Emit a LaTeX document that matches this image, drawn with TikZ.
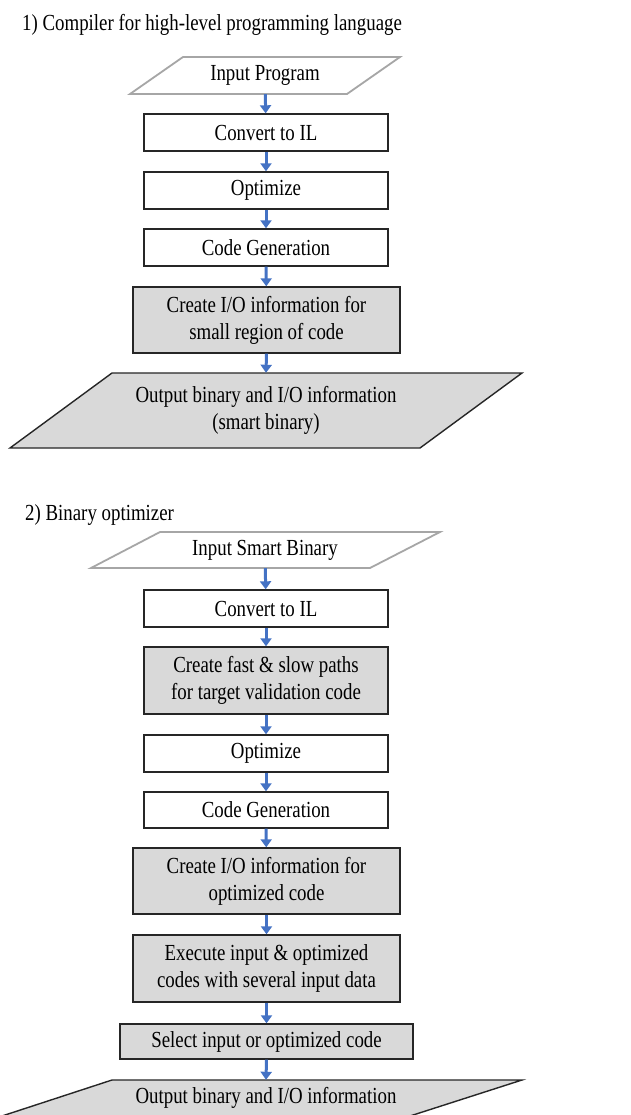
\documentclass[tikz,border=0pt]{standalone}
\usepackage{fontspec}
\setmainfont{Liberation Serif}[FakeStretch=0.82]
\usetikzlibrary{arrows.meta}
\definecolor{arrowblue}{HTML}{4472C4}
\definecolor{boxgray}{HTML}{D9D9D9}
\definecolor{inborder}{HTML}{A6A6A6}
\definecolor{boxborder}{HTML}{262626}
\tikzset{
  txt/.style={font=\fontsize{23}{27}\selectfont, align=center, inner sep=0pt},
  box/.style={txt, draw=boxborder, line width=1.4pt, fill=white},
  graybox/.style={box, fill=boxgray},
  inpar/.style={draw=inborder, line width=1.8pt, fill=white},
  outpar/.style={draw=boxborder, line width=1.4pt, fill=boxgray},
  flow/.style={draw=arrowblue, line width=3pt, -{Triangle[width=11pt,length=8pt]}},
  titletxt/.style={txt, anchor=west}
}
\begin{document}
\begin{tikzpicture}[x=1pt,y=-1pt]
\useasboundingbox (0,0) rectangle (631,1115);
\clip (0,0) rectangle (631,1115);
\fill[white] (0,0) rectangle (631,1115);

% ---------- Part 1 ----------
\node[titletxt] (t1) at (22,25) {1) Compiler for high-level programming language};

\draw[inpar] (183,57) -- (400,57) -- (347,94) -- (130,94) -- cycle;
\node[txt, minimum height=37pt] (in1) at (265,75.5) {Input Program};

\node[box, minimum width=244pt, minimum height=37pt] (b1) at (266,132.5) {Convert to IL};
\node[box, minimum width=244pt, minimum height=37pt] (b2) at (266,190.5) {Optimize};
\node[box, minimum width=244pt, minimum height=37pt] (b3) at (266,247.5) {Code Generation};
\node[graybox, minimum width=267pt, minimum height=66pt] (b4) at (266.5,320) {Create I/O information for\\small region of code};

\draw[outpar] (112,373) -- (522,373) -- (420,448) -- (10,448) -- cycle;
\node[txt, minimum height=75pt] (out1) at (266,410.5) {Output binary and I/O information\\(smart binary)};

\draw[flow] (in1) -- (b1);
\draw[flow] (b1) -- (b2);
\draw[flow] (b2) -- (b3);
\draw[flow] (b3) -- (b4);
\draw[flow] (b4.south) -- (out1.north);

% ---------- Part 2 ----------
\node[titletxt] (t2) at (25,515) {2) Binary optimizer};

\draw[inpar] (160,532) -- (440,532) -- (370,568) -- (91,568) -- cycle;
\node[txt, minimum height=36pt] (in2) at (265,550) {Input Smart Binary};

\node[box, minimum width=244pt, minimum height=37pt] (c1) at (266,608.5) {Convert to IL};
\node[graybox, minimum width=244pt, minimum height=67pt] (c2) at (266,680.5) {Create fast \& slow paths\\for target validation code};
\node[box, minimum width=244pt, minimum height=37pt] (c3) at (266,753.5) {Optimize};
\node[box, minimum width=244pt, minimum height=36pt] (c4) at (266,810) {Code Generation};
\node[graybox, minimum width=267pt, minimum height=66pt] (c5) at (266.5,881) {Create I/O information for\\optimized code};
\node[graybox, minimum width=267pt, minimum height=67pt] (c6) at (266.5,968.5) {Execute input \& optimized\\codes with several input data};
\node[graybox, minimum width=293pt, minimum height=35pt] (c7) at (266.5,1041.5) {Select input or optimized code};

\draw[outpar] (112,1080) -- (522,1080) -- (410,1116) -- (2,1116) -- cycle;
\node[txt, minimum height=36pt] (out2) at (266,1098) {Output binary and I/O information};

\draw[flow] (in2) -- (c1);
\draw[flow] (c1) -- (c2);
\draw[flow] (c2) -- (c3);
\draw[flow] (c3) -- (c4);
\draw[flow] (c4) -- (c5);
\draw[flow] (c5) -- (c6);
\draw[flow] (c6) -- (c7);
\draw[flow] (c7.south) -- (out2.north);
\end{tikzpicture}
\end{document}
